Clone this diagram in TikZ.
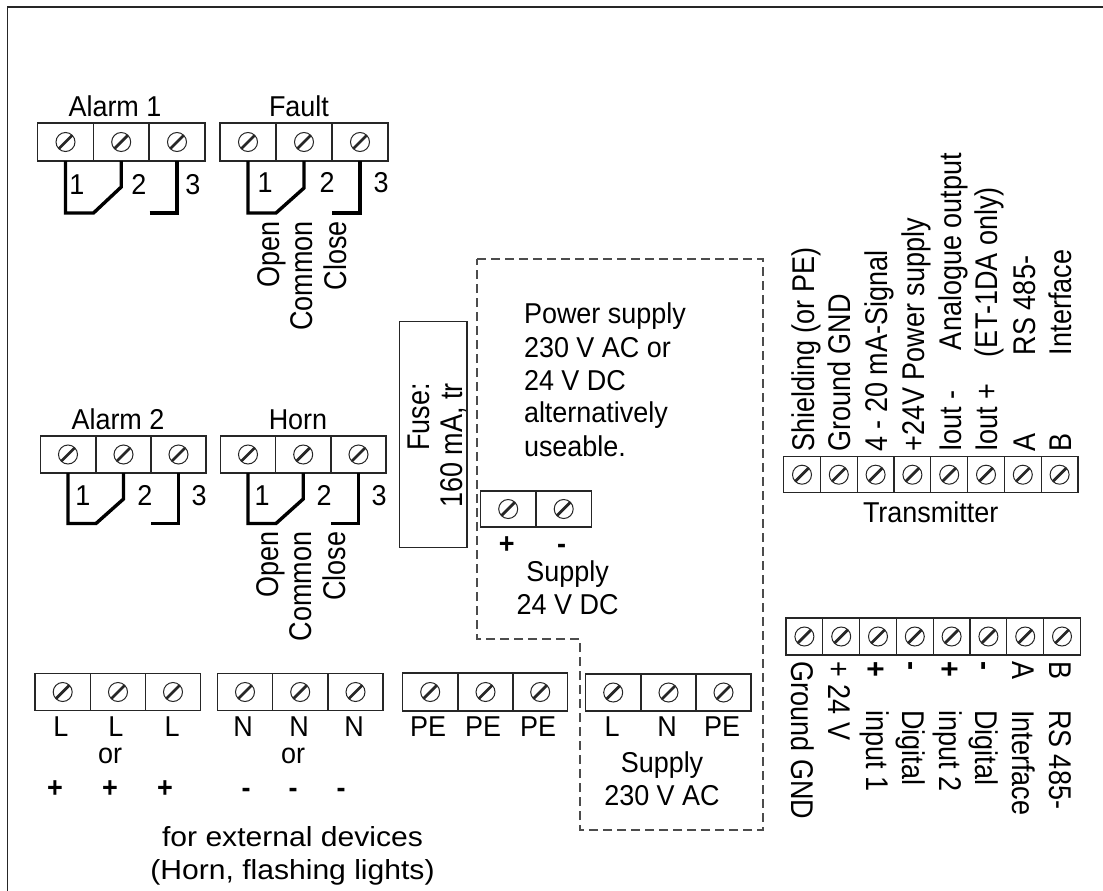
\documentclass[tikz,border=0pt]{standalone}
\usepackage{fontspec}
\setmainfont[FakeStretch=0.94]{Liberation Sans}
\newfontfamily\rotfont[FakeStretch=0.86]{Liberation Sans}
\newfontfamily\extfont[FakeStretch=1.09]{Liberation Sans}
\tikzset{
  cell/.style={draw=black!85,line width=1.2pt,rectangle,inner sep=0pt,outer sep=0pt},
  screw/.style={draw=black!85,line width=1pt,circle,inner sep=0pt,minimum size=19pt,
    path picture={\draw[line width=2.8pt,black!85] (path picture bounding box.south west)--(path picture bounding box.north east);}},
  wire/.style={line width=3.4pt,line join=miter,line cap=butt},
  frameline/.style={line width=1.6pt,black!85},
  dashline/.style={line width=1.1pt,black!70,dash pattern=on 9pt off 5pt},
  lbl/.style={inner sep=0pt,outer sep=0pt,font=\fontsize{28.7}{28.7}\selectfont},
  cb/.style={lbl,anchor=base},
  pm/.style={cb,font=\bfseries\fontsize{28.7}{28.7}\selectfont},
  lb/.style={lbl,anchor=base west},
  extlbl/.style={inner sep=0pt,outer sep=0pt,anchor=base,font=\extfont\fontsize{27.6}{27.6}\selectfont},
  rotlbl/.style={inner sep=0pt,outer sep=0pt,font=\rotfont\fontsize{31.4}{31.4}\selectfont},
  up/.style={rotlbl,rotate=90,anchor=base west},
  upe/.style={rotlbl,rotate=90,anchor=base east},
  dn/.style={rotlbl,rotate=-90,anchor=base west},
  dnpm/.style={dn,font=\rotfont\bfseries\fontsize{31.4}{31.4}\selectfont},
}
% one terminal cell: name, centre x, centre y, width, height
\newcommand{\tcell}[5]{%
  \node[cell,minimum width=#4pt,minimum height=#5pt] (#1) at (#2,#3) {};
  \node[screw] (#1s) at (#1) {};}
\begin{document}
\begin{tikzpicture}[x=1pt,y=-1pt]
\useasboundingbox (0,0) rectangle (1103,891);
% frame
\coordinate (fa) at (7.6,891); \coordinate (fb) at (7.6,7);
\coordinate (fc) at (1103,7);
\draw[frameline] (fa)--(fb)--(fc);
% dashed region
\coordinate (d1) at (477,259); \coordinate (d2) at (763,259);
\coordinate (d3) at (763,830); \coordinate (d4) at (580,830);
\coordinate (d5) at (580,639); \coordinate (d6) at (477,639);
\draw[dashline] (d1)--(d2)--(d3)--(d4)--(d5)--(d6)--cycle;
% fuse
\node[cell,minimum width=67.5pt,minimum height=226pt] (fuse) at (433.2,434.6) {};
\node[upe] (fuseA) at (429,383) {Fuse:};
\node[upe] (fuseB) at (462.7,383) {160 mA, tr};
% Alarm 1
\tcell{aa}{65.5}{142}{56}{38}\tcell{ab}{121.2}{142}{56}{38}\tcell{ac}{177}{142}{56}{38}
\node[cb] (t1) at (115,116.7) {Alarm 1};
\coordinate (aj1) at (65.5,213); \coordinate (aj2) at (93.5,213); \coordinate (aj3) at (121.2,187);
\coordinate (aj4) at (149.5,213); \coordinate (aj5) at (177,213);
\draw[wire] (aa.south-|aa)--(aj1)--(aj2)--(aj3)--(ab.south-|ab);
\draw[wire] (aj4)--(aj5)--(ac.south-|ac);
\node[cb] (n1a) at (77,194) {1}; \node[cb] (n1b) at (139,194) {2}; \node[cb] (n1c) at (193,194) {3};
% Fault
\tcell{fa1}{248}{142}{56}{38}\tcell{fb1}{304}{142}{56}{38}\tcell{fc1}{360}{142}{56}{38}
\node[cb] (t2) at (299,116.7) {Fault};
\coordinate (fj1) at (248,213); \coordinate (fj2) at (276,213); \coordinate (fj3) at (304,188);
\coordinate (fj4) at (332,213); \coordinate (fj5) at (360,213);
\draw[wire] (fa1.south-|fa1)--(fj1)--(fj2)--(fj3)--(fb1.south-|fb1);
\draw[wire] (fj4)--(fj5)--(fc1.south-|fc1);
\node[cb] (n2a) at (265,192.5) {1}; \node[cb] (n2b) at (327,192.5) {2}; \node[cb] (n2c) at (381,192.5) {3};
\node[upe] (o1) at (279,221) {Open};
\node[upe] (o2) at (312.7,221) {Common};
\node[upe] (o3) at (346,221) {Close};
% Alarm 2
\tcell{ba}{68}{454.5}{55.5}{37}\tcell{bb}{123.5}{454.5}{55}{37}\tcell{bc}{178.5}{454.5}{55}{37}
\node[cb] (t3) at (118,429.3) {Alarm 2};
\coordinate (bj1) at (68,523.5); \coordinate (bj2) at (96,523.5); \coordinate (bj3) at (123.5,499);
\coordinate (bj4) at (151,523.5); \coordinate (bj5) at (178.5,523.5);
\draw[wire] (ba.south-|ba)--(bj1)--(bj2)--(bj3)--(bb.south-|bb);
\draw[wire] (bj4)--(bj5)--(bc.south-|bc);
\node[cb] (n3a) at (83,505) {1}; \node[cb] (n3b) at (145,505) {2}; \node[cb] (n3c) at (199,505) {3};
% Horn
\tcell{ha}{248}{454.5}{55}{37}\tcell{hb}{303.2}{454.5}{55}{37}\tcell{hc}{358.5}{454.5}{55}{37}
\node[cb] (t4) at (298,429.3) {Horn};
\coordinate (hj1) at (248,523.5); \coordinate (hj2) at (276,523.5); \coordinate (hj3) at (303.2,499);
\coordinate (hj4) at (331,523.5); \coordinate (hj5) at (358.5,523.5);
\draw[wire] (ha.south-|ha)--(hj1)--(hj2)--(hj3)--(hb.south-|hb);
\draw[wire] (hj4)--(hj5)--(hc.south-|hc);
\node[cb] (n4a) at (262,505) {1}; \node[cb] (n4b) at (324,505) {2}; \node[cb] (n4c) at (379,505) {3};
\node[upe] (p1) at (278.3,531.7) {Open};
\node[upe] (p2) at (311.7,531.7) {Common};
\node[upe] (p3) at (345,531.7) {Close};
% Bottom row L
\tcell{la}{62.7}{692}{55.5}{37}\tcell{lb1}{118}{692}{55}{37}\tcell{lc}{173}{692}{55}{37}
\node[cb] (l1) at (61,736.7) {L}; \node[cb] (l2) at (116,736.7) {L}; \node[cb] (l3) at (172,736.7) {L};
\node[cb] (or1) at (110,763) {or};
\node[pm] (pl1) at (55,797) {+}; \node[pm] (pl2) at (110,797) {+}; \node[pm] (pl3) at (165,797) {+};
% Bottom row N
\tcell{na}{245}{692}{55}{37}\tcell{nb}{300.2}{692}{55.5}{37}\tcell{nc}{355.5}{692}{55}{37}
\node[cb] (n1) at (243,736.7) {N}; \node[cb] (n2) at (299,736.7) {N}; \node[cb] (n3) at (354,736.7) {N};
\node[cb] (or2) at (293,763) {or};
\node[pm] (m1) at (246,797) {-}; \node[pm] (m2) at (293,797) {-}; \node[pm] (m3) at (341,797) {-};
\node[extlbl] (ext1) at (292.5,846.7) {for external devices};
\node[extlbl] (ext2) at (292.5,879) {(Horn, flashing lights)};
% Bottom row PE
\tcell{ea}{430.2}{692}{55.5}{38}\tcell{eb}{485.5}{692}{55}{38}\tcell{ec}{540.2}{692}{55}{38}
\node[cb] (e1) at (428,736.7) {PE}; \node[cb] (e2) at (483,736.7) {PE}; \node[cb] (e3) at (538,736.7) {PE};
% Supply 230
\tcell{sa}{613.2}{692.5}{55.5}{37}\tcell{sb}{668.5}{692.5}{55}{37}\tcell{sc}{723.5}{692.5}{55}{37}
\node[cb] (s1) at (612,736.7) {L}; \node[cb] (s2) at (667,736.7) {N}; \node[cb] (s3) at (722,736.7) {PE};
\node[cb] (s4) at (662,772.7) {Supply}; \node[cb] (s5) at (662,805.7) {230 V AC};
% Supply 24
\tcell{da}{508.2}{509}{55.5}{36}\tcell{db}{563.7}{509}{55.5}{36}
\node[pm] (d7) at (506.7,553) {+}; \node[pm] (d8) at (561.7,553) {-};
\node[cb] (d9) at (567.7,581.7) {Supply}; \node[cb] (d10) at (567.7,614) {24 V DC};
% Power supply note
\node[lb] (ps1) at (524,323.5) {Power supply};
\node[lb] (ps2) at (524,357) {230 V AC or};
\node[lb] (ps3) at (524,390) {24 V DC};
\node[lb] (ps4) at (524,422.7) {alternatively};
\node[lb] (ps5) at (524,456) {useable.};
% Transmitter
\foreach \i in {0,...,7}{
  \pgfmathsetmacro{\cx}{802+36.8*\i}
  \tcell{tr\i}{\cx}{474.7}{36.8}{36}
  \pgfmathsetmacro{\dx}{804.4+36.8*\i}
  \tcell{bt\i}{\dx}{636.5}{36.8}{37}
}
\node[cb] (tt) at (930.7,522) {Transmitter};
\node[up] (u1) at (814.3,451.7) {Shielding (or PE)};
\node[up] (u2) at (850.7,451.7) {Ground GND};
\node[up] (u3) at (887.7,451.7) {4 - 20 mA-Signal};
\node[up] (u4) at (924.3,451.7) {+24V Power supply};
\node[up] (u5) at (961,451.7) {Iout -};
\node[up] (u6) at (997.7,451.7) {Iout +};
\node[up] (u7) at (1035,451.7) {A};
\node[up] (u8) at (1071.7,451.7) {B};
\node[up] (v5) at (961,350) {Analogue output};
\node[up] (v6) at (997.7,357) {(ET-1DA only)};
\node[up] (v7) at (1035,355) {RS 485-};
\node[up] (v8) at (1071.7,355) {Interface};
\node[dn] (w1) at (791.7,661.7) {Ground GND};
\node[dn] (w2) at (828.5,661.7) {+ 24 V};
\node[dnpm] (w3) at (865.3,661.7) {+};
\node[dnpm] (w4) at (902,661.7) {-};
\node[dnpm] (w5) at (939,661.7) {+};
\node[dnpm] (w6) at (975.7,661.7) {-};
\node[dn] (w7) at (1012.5,661.7) {A};
\node[dn] (w8) at (1049,661.7) {B};
\node[dn] (x3) at (866,710) {input 1};
\node[dn] (x4) at (902.7,710) {Digital};
\node[dn] (x5) at (939,710) {input 2};
\node[dn] (x6) at (975.7,710) {Digital};
\node[dn] (x7) at (1012.5,710) {Interface};
\node[dn] (x8) at (1049,710) {RS 485-};
\end{tikzpicture}
\end{document}
